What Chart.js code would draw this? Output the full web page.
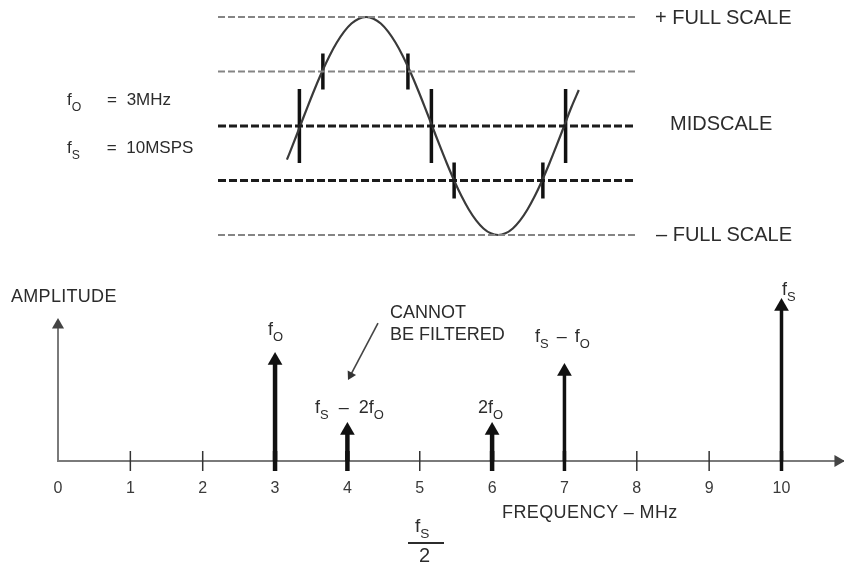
<!DOCTYPE html>
<html>
<head>
<meta charset="utf-8">
<script src="https://cdn.jsdelivr.net/npm/chart.js@4.4.1/dist/chart.umd.min.js"></script>
<style>
html,body{margin:0;padding:0;background:#fff;}
#wrap{position:relative;width:844px;height:563px;overflow:hidden;font-family:"Liberation Sans",Arial,Helvetica,sans-serif;color:#2c2c2c;}
#wrap canvas{position:absolute;left:0;}
.t{position:absolute;white-space:nowrap;line-height:1;}
.t sub{font-size:0.72em;vertical-align:-0.45em;line-height:0;}
</style>
</head>
<body>
<div id="wrap">
  <canvas id="waveChart" width="844" height="250" style="top:0;"></canvas>
  <canvas id="spectrumChart" width="844" height="313" style="top:250px;"></canvas>

  <div class="t" style="left:67px;top:91px;font-size:17px;">f<sub>O</sub> <span style="margin-left:21px;margin-right:5px;">=</span> 3MHz</div>
  <div class="t" style="left:67px;top:139px;font-size:17px;">f<sub>S</sub> <span style="margin-left:22px;margin-right:5px;">=</span> 10MSPS</div>

  <div class="t" style="left:655px;top:7px;font-size:20px;">+ FULL SCALE</div>
  <div class="t" style="left:670px;top:113px;font-size:20px;">MIDSCALE</div>
  <div class="t" style="left:656px;top:224px;font-size:20px;">– FULL SCALE</div>

  <div class="t" style="left:11px;top:287px;font-size:18px;letter-spacing:0.3px;">AMPLITUDE</div>
  <div class="t" style="left:390px;top:301px;font-size:18px;line-height:22px;">CANNOT<br>BE FILTERED</div>
  <div class="t" style="left:268px;top:320px;font-size:18px;">f<sub>O</sub></div>
  <div class="t" style="left:315px;top:398px;font-size:18px;word-spacing:5px;">f<sub>S</sub> – 2f<sub>O</sub></div>
  <div class="t" style="left:478px;top:398px;font-size:18px;">2f<sub>O</sub></div>
  <div class="t" style="left:535px;top:327px;font-size:18px;word-spacing:3px;">f<sub>S</sub> – f<sub>O</sub></div>
  <div class="t" style="left:782px;top:280px;font-size:18px;">f<sub>S</sub></div>
  <div class="t" style="left:502px;top:503px;font-size:18px;letter-spacing:0.4px;">FREQUENCY – MHz</div>

  <div class="t" style="left:415px;top:516px;font-size:19px;">f<sub>S</sub></div>
  <div style="position:absolute;left:408px;top:542px;width:36px;height:2px;background:#2c2c2c;"></div>
  <div class="t" style="left:419px;top:545px;font-size:20px;">2</div>
</div>

<script>
// ---------------- DATA ----------------
// Top panel: 3 MHz sine (phase in degrees) sampled at 10 MSPS
const sinePhaseDeg = [-18,-10,0,10,20,30,40,50,60,70,80,90,100,110,120,130,140,150,160,170,180,190,200,210,220,230,240,250,260,270,280,290,300,310,320,330,340,350,360,370,380];
const sineLevel    = [-0.309,-0.174,0,0.174,0.342,0.5,0.643,0.766,0.866,0.94,0.985,1,0.985,0.94,0.866,0.766,0.643,0.5,0.342,0.174,0,-0.174,-0.342,-0.5,-0.643,-0.766,-0.866,-0.94,-0.985,-1,-0.985,-0.94,-0.866,-0.766,-0.643,-0.5,-0.342,-0.174,0,0.174,0.33];
const samplePhaseDeg = [-1,31,147,179,210,331,362];
const sampleLevel    = [0,0.5,0.5,0,-0.5,-0.5,0];
const quantLevels    = [1,0.5,0,-0.5,-1];          // +FULL SCALE ... -FULL SCALE

// Bottom panel: spectrum
const freqTicksMHz      = [0,1,2,3,4,5,6,7,8,9,10];
const spectrumFreqMHz   = [3,4,6,7,10];
const spectrumAmplitude = [0.588,0.178,0.178,0.523,0.904];
const spectrumNames     = ['fO','fS – 2fO','2fO','fS – fO','fS'];
const amplitudeAxisTop  = 0.795;
const frequencyAxisEnd  = 10.78;
const calloutFrom = {x:4.423, y:0.807};   // "CANNOT BE FILTERED" pointer
const calloutTo   = {x:4.044, y:0.502};

// ---------------- STYLE ----------------
Chart.defaults.font.family = '"Liberation Sans", Arial, Helvetica, sans-serif';
const spectrumLineWidth = [4.5,4.5,4.5,3.5,3.5];
const levelStyle = lv => (lv === 0 || lv === -0.5)
  ? {color:'#1c1c1c', width:3, dash:[8,3]}
  : {color:'#858585', width:2, dash:[7,3]};

const common = {
  responsive:false, animation:false, events:[],
  plugins:{legend:{display:false}, tooltip:{enabled:false}}
};

// ---------------- TOP CHART ----------------
const waveDatasets = quantLevels.map(lv => {
  const s = levelStyle(lv);
  return {
    label:'level '+lv, showLine:true, clip:false,
    data:[{x:-112,y:lv},{x:458,y:lv}],
    borderColor:s.color, borderWidth:s.width, borderDash:s.dash,
    pointRadius:0
  };
});
waveDatasets.push({
  label:'3 MHz input', showLine:true, clip:false,
  data:sinePhaseDeg.map((p,i)=>({x:p,y:sineLevel[i]})),
  borderColor:'#3a3a3a', borderWidth:2.2, tension:0.3, pointRadius:0
});
waveDatasets.push({
  label:'samples', showLine:false, clip:false,
  data:samplePhaseDeg.map((p,i)=>({x:p,y:sampleLevel[i]})),
  pointStyle:'line', pointRotation:90,
  pointRadius:sampleLevel.map(v => v === 0 ? 37 : 18),
  pointBorderColor:'#111', pointBorderWidth:3.5
});

new Chart(document.getElementById('waveChart'), {
  type:'scatter',
  data:{datasets:waveDatasets},
  options:Object.assign({}, common, {
    layout:{autoPadding:false, padding:{left:218, right:208, top:17, bottom:15}},
    scales:{
      x:{type:'linear', display:false, min:-112, max:458},
      y:{type:'linear', display:false, min:-1, max:1}
    }
  })
});

// ---------------- BOTTOM CHART ----------------
const specDatasets = [];
// amplitude axis with arrowhead
specDatasets.push({
  label:'amplitude axis', showLine:true, clip:false,
  data:[{x:0,y:0},{x:0,y:amplitudeAxisTop}],
  borderColor:'#7a7a7a', borderWidth:2,
  pointRadius:[0,7], pointStyle:'triangle',
  pointBackgroundColor:'#444', pointBorderWidth:0
});
// frequency axis arrowhead
specDatasets.push({
  label:'frequency axis', showLine:false, clip:false,
  data:[{x:frequencyAxisEnd,y:0}],
  pointRadius:7, pointStyle:'triangle', pointRotation:90,
  pointBackgroundColor:'#444', pointBorderWidth:0
});
// tick marks crossing the frequency axis
specDatasets.push({
  label:'ticks', showLine:false, clip:false,
  data:freqTicksMHz.slice(1).map(v=>({x:v,y:0})),
  pointStyle:'line', pointRotation:90, pointRadius:10,
  pointBorderColor:ctx => spectrumFreqMHz.includes(ctx.raw && ctx.raw.x) ? '#111' : '#333',
  pointBorderWidth:ctx => {
    const i = spectrumFreqMHz.indexOf(ctx.raw && ctx.raw.x);
    return i >= 0 ? spectrumLineWidth[i] : 1.5;
  }
});
// spectral lines
spectrumFreqMHz.forEach((f,i) => {
  specDatasets.push({
    label:spectrumNames[i], showLine:true, clip:false,
    data:[{x:f,y:0},{x:f,y:spectrumAmplitude[i]}],
    borderColor:'#111', borderWidth:spectrumLineWidth[i],
    pointRadius:[0,8.5], pointStyle:'triangle',
    pointBackgroundColor:'#111', pointBorderWidth:0
  });
});
// callout pointer
specDatasets.push({
  label:'callout', showLine:true, clip:false,
  data:[calloutFrom, calloutTo],
  borderColor:'#444', borderWidth:1.6,
  pointRadius:[0,5.5], pointStyle:'triangle', pointRotation:[0,-152],
  pointBackgroundColor:'#333', pointBorderWidth:0
});

new Chart(document.getElementById('spectrumChart'), {
  type:'scatter',
  data:{datasets:specDatasets},
  options:Object.assign({}, common, {
    layout:{autoPadding:false, padding:{left:58, right:1, top:40, bottom:0}},
    scales:{
      x:{
        type:'linear', min:0, max:10.85,
        grid:{display:false, drawTicks:false},
        border:{display:true, color:'#7a7a7a', width:2},
        afterBuildTicks:s => { s.ticks = freqTicksMHz.map(v=>({value:v})); },
        afterFit:s => { s.height = 102; },
        ticks:{padding:18, color:'#3a3a3a', font:{size:16}, maxRotation:0, autoSkip:false,
               callback:v => String(v)}
      },
      y:{type:'linear', display:false, min:0, max:1}
    }
  })
});
</script>
</body>
</html>
